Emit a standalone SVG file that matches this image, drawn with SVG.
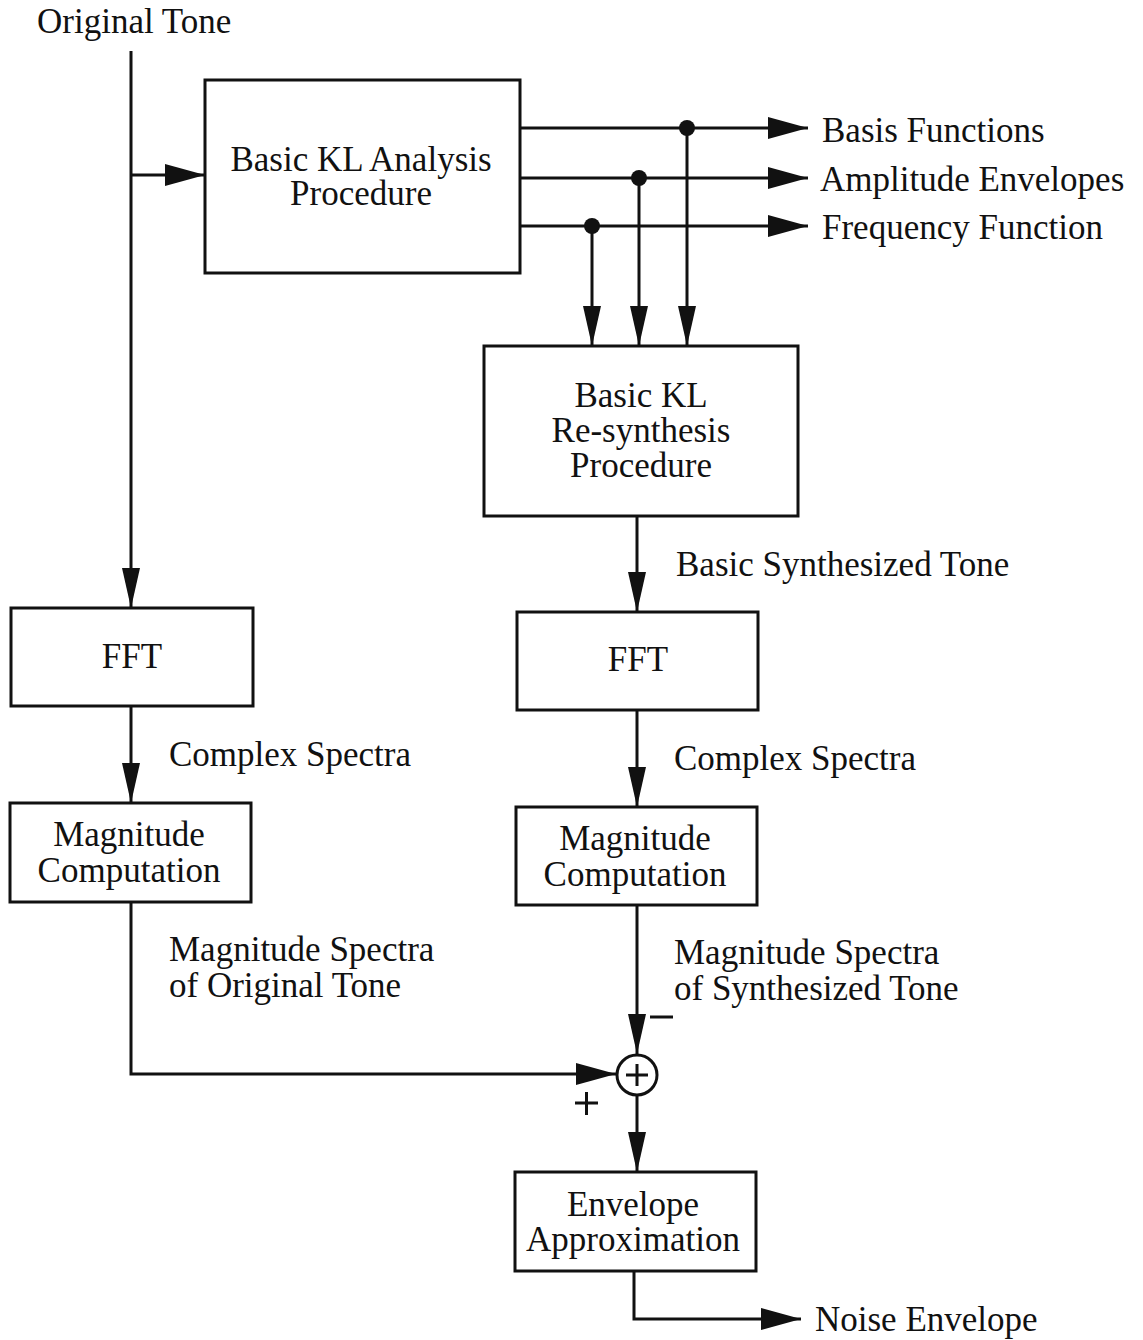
<svg xmlns="http://www.w3.org/2000/svg" width="1143" height="1340" viewBox="0 0 1143 1340">
  <style>
    .box { fill: #fff; stroke: #111; stroke-width: 3; }
    .wire { fill: none; stroke: #111; stroke-width: 3; }
    .t { font-family: "Liberation Serif", "Times New Roman", serif; font-size: 35px; fill: #111; }
    .c { text-anchor: middle; }
  </style>
  <defs>
    <marker id="ah" viewBox="0 0 40 22" refX="40" refY="11" markerWidth="40" markerHeight="22" markerUnits="userSpaceOnUse" orient="auto">
      <path d="M0,0 L40,11 L0,22 Z" fill="#111"/>
    </marker>
    <marker id="av" viewBox="0 0 40 18" refX="40" refY="9" markerWidth="40" markerHeight="18" markerUnits="userSpaceOnUse" orient="auto">
      <path d="M0,0 L40,9 L0,18 Z" fill="#111"/>
    </marker>
  </defs>

  <rect width="1143" height="1340" fill="#fff"/>

  <!-- connectors -->
  <g id="connectors">
    <path class="wire" d="M131,51 V608" marker-end="url(#av)"/>
    <path class="wire" d="M131,175 H205" marker-end="url(#ah)"/>
    <path class="wire" d="M520,128 H808" marker-end="url(#ah)"/>
    <path class="wire" d="M520,178 H808" marker-end="url(#ah)"/>
    <path class="wire" d="M520,226 H808" marker-end="url(#ah)"/>
    <path class="wire" d="M687,128 V346" marker-end="url(#av)"/>
    <path class="wire" d="M639,178 V346" marker-end="url(#av)"/>
    <path class="wire" d="M592,226 V346" marker-end="url(#av)"/>
    <circle cx="687" cy="128" r="8" fill="#111"/>
    <circle cx="639" cy="178" r="8" fill="#111"/>
    <circle cx="592" cy="226" r="8" fill="#111"/>
    <path class="wire" d="M637,516 V612" marker-end="url(#av)"/>
    <path class="wire" d="M131,706 V803" marker-end="url(#av)"/>
    <path class="wire" d="M637,710 V807" marker-end="url(#av)"/>
    <path class="wire" d="M131,902 V1074 H616" marker-end="url(#ah)"/>
    <path class="wire" d="M637,905 V1054" marker-end="url(#av)"/>
    <path class="wire" d="M637,1096 V1172" marker-end="url(#av)"/>
    <path class="wire" d="M634,1271 V1319 H801" marker-end="url(#ah)"/>
  </g>

  <!-- signal labels -->
  <g id="labels">
    <text class="t" x="37" y="33">Original Tone</text>
    <text class="t" x="822" y="142">Basis Functions</text>
    <text class="t" x="820" y="191">Amplitude Envelopes</text>
    <text class="t" x="822" y="239">Frequency Function</text>
    <text class="t" x="676" y="576">Basic Synthesized Tone</text>
    <text class="t" x="169" y="766">Complex Spectra</text>
    <text class="t" x="674" y="770">Complex Spectra</text>
    <text class="t" x="169" y="961">Magnitude Spectra</text>
    <text class="t" x="169" y="997">of Original Tone</text>
    <text class="t" x="674" y="964">Magnitude Spectra</text>
    <text class="t" x="674" y="1000">of Synthesized Tone</text>
    <text class="t" x="815" y="1331">Noise Envelope</text>
  </g>

  <g id="analysis">
    <rect class="box" x="205" y="80" width="315" height="193"/>
    <text class="t c" x="361" y="171">Basic KL Analysis</text>
    <text class="t c" x="361" y="205">Procedure</text>
  </g>

  <g id="resynthesis">
    <rect class="box" x="484" y="346" width="314" height="170"/>
    <text class="t c" x="641" y="407">Basic KL</text>
    <text class="t c" x="641" y="442">Re-synthesis</text>
    <text class="t c" x="641" y="477">Procedure</text>
  </g>

  <g id="fft-original">
    <rect class="box" x="11" y="608" width="242" height="98"/>
    <text class="t c" x="132" y="668">FFT</text>
  </g>

  <g id="fft-synth">
    <rect class="box" x="517" y="612" width="241" height="98"/>
    <text class="t c" x="638" y="671">FFT</text>
  </g>

  <g id="magnitude-original">
    <rect class="box" x="10" y="803" width="241" height="99"/>
    <text class="t c" x="129" y="846">Magnitude</text>
    <text class="t c" x="129" y="882">Computation</text>
  </g>

  <g id="magnitude-synth">
    <rect class="box" x="516" y="807" width="241" height="98"/>
    <text class="t c" x="635" y="850">Magnitude</text>
    <text class="t c" x="635" y="886">Computation</text>
  </g>

  <g id="summer">
    <circle cx="637" cy="1075" r="20" fill="#fff" stroke="#111" stroke-width="3"/>
    <path class="wire" d="M626,1075 H648 M637,1064 V1086"/>
    <path class="wire" d="M650,1017 H673"/>
    <path class="wire" d="M575,1103 H598 M586.5,1092 V1115"/>
  </g>

  <g id="envelope">
    <rect class="box" x="515" y="1172" width="241" height="99"/>
    <text class="t c" x="633" y="1216">Envelope</text>
    <text class="t c" x="633" y="1251">Approximation</text>
  </g>
</svg>
